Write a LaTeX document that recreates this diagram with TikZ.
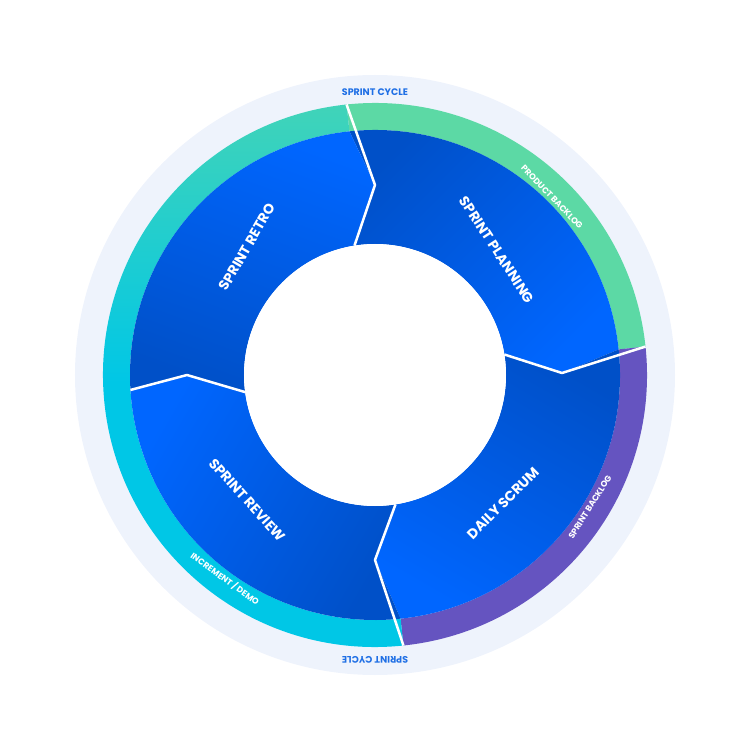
\documentclass[tikz,border=0pt]{standalone}
\usepackage{fontspec}
\setmainfont{Poppins}
\begin{document}
\begin{tikzpicture}[x=1pt,y=1pt,
  lbl/.style={text=white,font=\bfseries\fontsize{14}{14}\selectfont},
  rlbl/.style={text=white,font=\bfseries\fontsize{8.5}{8.5}\selectfont},
  clbl/.style={text=cyc,font=\bfseries\fontsize{9.5}{9.5}\selectfont},
  divl/.style={white,line width=2.5pt,line join=round}]
\definecolor{bgring}{HTML}{EEF3FC}
\definecolor{grn}{HTML}{5CD9A5}
\definecolor{pur}{HTML}{6554C0}
\definecolor{cya}{HTML}{00C7E6}
\definecolor{bdark}{HTML}{0050C8}
\definecolor{blight}{HTML}{0066FF}
\definecolor{cyc}{HTML}{1F6FE5}
\useasboundingbox (-375,-375) rectangle (375,375);
\fill[bgring] (0,0) circle (300);
% coloured ring
\fill[grn] (96:272) arc[start angle=96,end angle=6,radius=272] -- (6:245) arc[start angle=6,end angle=96,radius=245] -- cycle;
\fill[pur] (6:272) arc[start angle=6,end angle=-84,radius=272] -- (-84:245) arc[start angle=-84,end angle=6,radius=245] -- cycle;
\shade[top color=grn!70!cya,bottom color=cya,middle color=cya] (-84:272) arc[start angle=-84,end angle=-264,radius=272] -- (-264:245) arc[start angle=-264,end angle=-84,radius=245] -- cycle;
% blue sectors
\coordinate (tk) at (0,190); \coordinate (rk) at (187,2);
\coordinate (bk) at (0,-185); \coordinate (lk) at (-188,0);
\shade[top color=bdark,bottom color=blight,shading angle=45]
 (96:245) arc[start angle=96,end angle=6,radius=245] -- (rk) -- (9:131) arc[start angle=9,end angle=99,radius=131] -- (tk) -- cycle;
\shade[top color=bdark,bottom color=blight,shading angle=-30]
 (6:245) arc[start angle=6,end angle=-84,radius=245] -- (bk) -- (-81:131) arc[start angle=-81,end angle=9,radius=131] -- (rk) -- cycle;
\shade[top color=bdark,bottom color=blight,shading angle=-120]
 (-84:245) arc[start angle=-84,end angle=-176.5,radius=245] -- (lk) -- (-172.5:131) arc[start angle=-172.5,end angle=-81,radius=131] -- (bk) -- cycle;
\shade[top color=bdark,bottom color=blight,shading angle=160]
 (-176.5:245) arc[start angle=-176.5,end angle=-264,radius=245] -- (tk) -- (-261:131) arc[start angle=-261,end angle=-172.5,radius=131] -- (lk) -- cycle;
\fill[white] (0,0) circle (131);
% dividers
\draw[divl] (96:272) -- (tk) -- (99:131);
\draw[divl] (6:272) -- (rk) -- (9:131);
\draw[divl] (-84:272) -- (bk) -- (-81:131);
\draw[divl] (-176.5:245) -- (lk) -- (-172.5:131);
% labels
\node[lbl,rotate=-57] (sp) at (122,125) {SPRINT PLANNING};
\node[lbl,rotate=60] (sr) at (-128,128) {SPRINT RETRO};
\node[lbl,rotate=-48] (sv) at (-128,-125) {SPRINT REVIEW};
\node[lbl,rotate=45] (ds) at (128,-128) {DAILY SCRUM};
\node[rlbl,rotate=-46] (pb) at (177,178) {PRODUCT BACKLOG};
\node[rlbl,rotate=58] (sb) at (215,-132) {SPRINT BACKLOG};
\node[rlbl,rotate=-36] (id) at (-150,-204) {INCREMENT / DEMO};
\node[clbl] (c1) at (0,283) {SPRINT CYCLE};
\node[clbl,rotate=180] (c2) at (0,-285) {SPRINT CYCLE};
\end{tikzpicture}
\end{document}
